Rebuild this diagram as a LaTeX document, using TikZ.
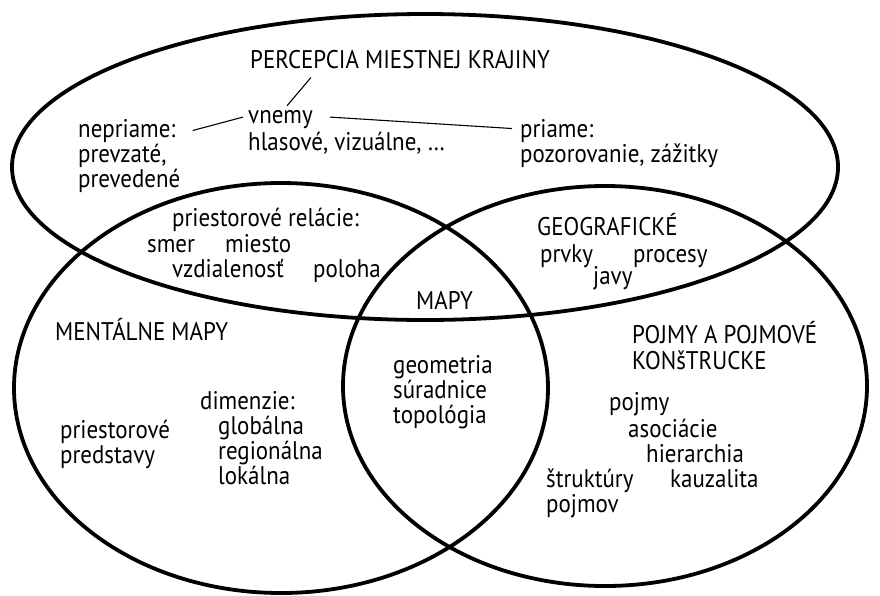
\documentclass[tikz,border=0pt]{standalone}
\usepackage{fontspec}
\setmainfont[FakeStretch=0.9]{PT Sans}
\usetikzlibrary{calc}
\begin{document}
\begin{tikzpicture}[x=1pt,y=-1pt,
  set/.style={line width=3.8pt},
  lbl/.style={anchor=base west,inner sep=0pt,font=\fontsize{25.5}{25}\selectfont},
  link/.style={line width=1.1pt}]
\useasboundingbox (0,0) rectangle (880,595);
\draw[set] (425,167) ellipse [x radius=413, y radius=153];
\draw[set] (281,388) ellipse [x radius=267, y radius=205];
\draw[set] (605,386) ellipse [x radius=262, y radius=200];
% top set
\node[lbl] (perc) at (250,68) {PERCEPCIA MIESTNEJ KRAJINY};
\node[lbl] (vnemy) at (248,123) {vnemy};
\node[lbl] (hlas) at (248,150) {hlasové, vizuálne, …};
\node[lbl] (nepr) at (78,137) {nepriame:};
\node[lbl] (prevz) at (78,162) {prevzaté,};
\node[lbl] (prevd) at (78,187) {prevedené};
\node[lbl] (priame) at (520,137) {priame:};
\node[lbl] (pozor) at (520,162) {pozorovanie, zážitky};
% top-left
\node[lbl] (rel) at (172,226) {priestorové relácie:};
\node[lbl] (smer) at (147,252) {smer};
\node[lbl] (miesto) at (225,252) {miesto};
\node[lbl] (vzd) at (172,277) {vzdialenosť};
\node[lbl] (poloha) at (313,277) {poloha};
% top-right
\node[lbl] (geo) at (537,235) {GEOGRAFICKÉ};
\node[lbl] (prvky) at (540,262) {prvky};
\node[lbl] (proc) at (633,262) {procesy};
\node[lbl] (javy) at (593,284) {javy};
% centre
\node[lbl] (mapy) at (416,309) {MAPY};
\node[lbl] (geom) at (393,373) {geometria};
\node[lbl] (sur) at (393,398) {súradnice};
\node[lbl] (topo) at (393,423) {topológia};
% left
\node[lbl] (ment) at (55,340) {MENTÁLNE MAPY};
\node[lbl] (dim) at (200,409) {dimenzie:};
\node[lbl] (glob) at (218,434) {globálna};
\node[lbl] (reg) at (218,459) {regionálna};
\node[lbl] (lok) at (218,484) {lokálna};
\node[lbl] (pries) at (60,438) {priestorové};
\node[lbl] (pred) at (60,463) {predstavy};
% right
\node[lbl] (pojmyA) at (632,343) {POJMY A POJMOVÉ};
\node[lbl] (konst) at (632,369) {KONšTRUCKE};
\node[lbl] (pojmy) at (609,410) {pojmy};
\node[lbl] (asoc) at (628,437) {asociácie};
\node[lbl] (hier) at (646,462) {hierarchia};
\node[lbl] (kauz) at (670,487) {kauzalita};
\node[lbl] (strukt) at (546,487) {štruktúry};
\node[lbl] (pojmov) at (546,512) {pojmov};
% connectors
\draw[link] ($(vnemy.north west)+(39,-4)$) -- ($(perc.south west)+(61,9)$);
\draw[link] ($(nepr.east)+(17,0)$) -- ($(vnemy.west)+(-5,-2)$);
\draw[link] ($(vnemy.east)+(17,-2)$) -- ($(priame.west)+(-8,-2)$);
\end{tikzpicture}
\end{document}
